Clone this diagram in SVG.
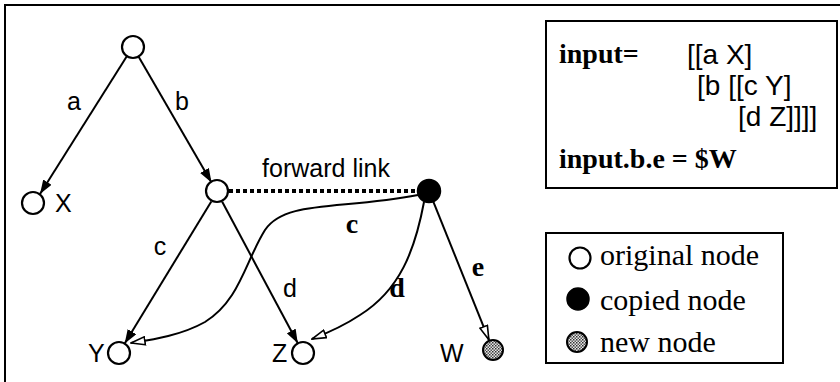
<svg xmlns="http://www.w3.org/2000/svg" width="840" height="382" viewBox="0 0 840 382">
<style>
.edge{fill:none;stroke:#000;stroke-width:2}
.orig{fill:#fff;stroke:#000;stroke-width:2.2}
.copy{fill:#000;stroke:#000;stroke-width:1.5}
.newn{fill:url(#stip);stroke:#000;stroke-width:2}
.sans{font-family:"Liberation Sans",Arial,sans-serif;font-size:25px;fill:#000}
.mono{font-family:"Liberation Sans",Arial,sans-serif;font-size:28px;fill:#000}
.serifb{font-family:"Liberation Serif","Times New Roman",serif;font-weight:bold;font-size:28px;fill:#000}
.serif{font-family:"Liberation Serif","Times New Roman",serif;font-size:30px;fill:#000}
.box{fill:#fff;stroke:#000;stroke-width:2}
</style>
<defs>
<pattern id="stip" width="3" height="3" patternUnits="userSpaceOnUse">
<rect width="3" height="3" fill="#e8e8e8"/>
<rect width="1.5" height="1.5" fill="#333"/>
<rect x="1.5" y="1.5" width="1.5" height="1.5" fill="#555"/>
</pattern>
<marker id="fill" viewBox="0 0 14 10" refX="14" refY="5" markerWidth="14" markerHeight="10" markerUnits="userSpaceOnUse" orient="auto">
<path d="M0,0 L14,5 L0,10 Z" fill="#000"/>
</marker>
<marker id="hollow" viewBox="0 0 16 10" refX="15" refY="5" markerWidth="16" markerHeight="10" markerUnits="userSpaceOnUse" orient="auto">
<path d="M1,1 L15,5 L1,9 Z" fill="#fff" stroke="#000" stroke-width="1.6"/>
</marker>
</defs>
<rect x="5" y="5" width="836" height="380" fill="#fff" stroke="#000" stroke-width="2"/>

<g id="connectors">
<line class="edge" x1="127" y1="56" x2="40" y2="194" marker-end="url(#fill)"/>
<line class="edge" x1="138.5" y1="56.5" x2="211.5" y2="182.5" marker-end="url(#fill)"/>
<line class="edge" x1="211.3" y1="201.4" x2="124.7" y2="343.6" marker-end="url(#fill)"/>
<line class="edge" x1="222.2" y1="201.7" x2="297.8" y2="343.3" marker-end="url(#fill)"/>
<line x1="229" y1="191" x2="417" y2="191" stroke="#000" stroke-width="4" stroke-dasharray="4 3"/>
<path class="edge" d="M418,195 C340,210 285,200 265,230 C245,262 240,300 205,322 C180,336 150,340 131,343" marker-end="url(#hollow)"/>
<path class="edge" d="M424,202 C415,250 400,290 360,315 C345,325 330,332 312,339" marker-end="url(#hollow)"/>
<line class="edge" x1="433.3" y1="201.6" x2="488.9" y2="339.8" marker-end="url(#hollow)"/>
<text class="sans" x="74" y="110" text-anchor="middle">a</text>
<text class="sans" x="182" y="110" text-anchor="middle">b</text>
<text class="sans" x="326" y="177" text-anchor="middle">forward link</text>
<text class="sans" x="160" y="255" text-anchor="middle">c</text>
<text class="sans" x="290" y="297" text-anchor="middle">d</text>
<text class="serifb" x="352" y="233" text-anchor="middle">c</text>
<text class="serifb" x="397" y="297" text-anchor="middle">d</text>
<text class="serifb" x="478" y="276" text-anchor="middle">e</text>
</g>

<g id="node-root"><circle class="orig" cx="133" cy="47" r="11"/></g>
<g id="node-X"><circle class="orig" cx="33" cy="203" r="11"/><text class="sans" x="55" y="212">X</text></g>
<g id="node-b"><circle class="orig" cx="217" cy="191" r="11"/></g>
<g id="node-copy"><circle class="copy" cx="429" cy="191" r="11.5"/></g>
<g id="node-Y"><circle class="orig" cx="119" cy="353" r="11"/><text class="sans" x="88" y="362">Y</text></g>
<g id="node-Z"><circle class="orig" cx="303" cy="353" r="11"/><text class="sans" x="272" y="362">Z</text></g>
<g id="node-W"><circle class="newn" cx="493" cy="350" r="10"/><text class="sans" x="440" y="362">W</text></g>

<g id="input-box">
<rect class="box" x="546" y="21" width="291" height="167"/>
<text class="serifb" x="559" y="63">input=</text>
<text class="mono" x="687" y="64">[[a X]</text>
<text class="mono" x="697" y="95">[b [[c Y]</text>
<text class="mono" x="738" y="126">[d Z]]]]</text>
<text class="serifb" x="559" y="168">input.b.e = $W</text>
</g>

<g id="legend">
<rect class="box" x="546" y="233" width="237" height="130"/>
<circle class="orig" cx="580" cy="258" r="10.5"/>
<text class="serif" x="600" y="265">original node</text>
<circle class="copy" cx="578" cy="299" r="11"/>
<text class="serif" x="600" y="310">copied node</text>
<circle class="newn" cx="577" cy="342" r="10"/>
<text class="serif" x="600" y="352">new node</text>
</g>
</svg>
